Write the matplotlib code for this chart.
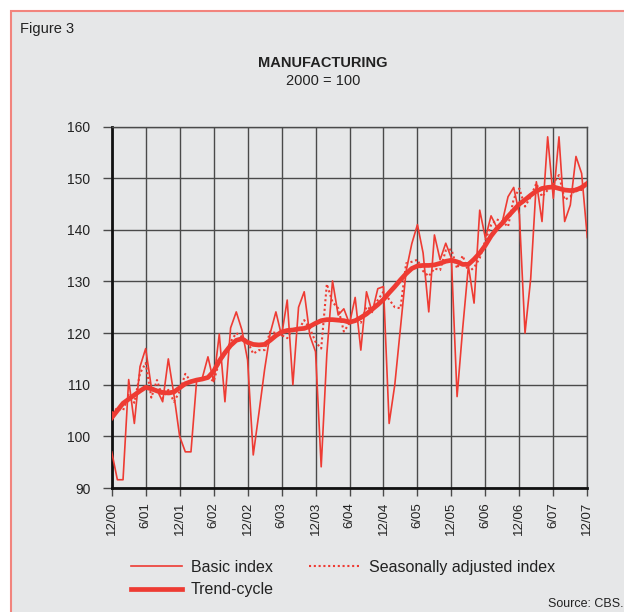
import matplotlib.pyplot as plt
from matplotlib.patches import Rectangle

plt.rcParams['font.family'] = ['Liberation Sans', 'DejaVu Sans']

# monthly, 12/00 .. 12/07
months = list(range(85))

basic_index = [
    97, 91.6, 91.6, 111, 102.5, 113.5, 117, 109.5, 109, 106.7, 115, 108,
    100, 97, 97, 110.8, 111.3, 115.4, 110.6, 119.8, 106.7, 121, 124.1, 120.6,
    114.8, 96.4, 104.5, 112.9, 120, 124.1, 119.5, 126.4, 110, 125, 128, 119.5,
    116.4, 94.1, 116, 130.1, 123.5, 124.7, 121.8, 126.9, 116.7, 128, 124, 128.6,
    129, 102.5, 110, 121, 132, 137.3, 141, 135.5, 124.1, 139, 134.2, 137.4,
    134.5, 107.7, 121, 133, 125.8, 143.8, 138.4, 142.7, 140.5, 141.6, 146.4, 148.2,
    143, 120, 130.5, 149.3, 141.6, 158, 146.1, 158, 141.6, 144.8, 154.2, 150.9,
    138.5,
]

seas_adjusted = [
    104.5, 105.5, 105, 108, 106.5, 112.2, 114.2, 107.5, 110.9, 107.4, 109, 106.7,
    108.7, 112.1, 110.6, 111, 111.2, 111.6, 110.6, 114.5, 115.8, 118.3, 120, 119.3,
    118.3, 116, 116.7, 116.7, 120.3, 120, 119.6, 119, 120.9, 120.6, 122.5, 120.9,
    118.3, 117, 129.5, 126, 124.8, 120.3, 121.9, 122.5, 122, 125.1, 124.5, 126.4,
    128, 126.5, 125, 124.8, 133.5, 133.8, 134.2, 132, 131, 132.5, 132.2, 136,
    136.2, 132.5, 135, 131.8, 132.7, 134.5, 138, 140.9, 142, 141.6, 140.6, 146,
    148, 144.5, 146.4, 149, 146.4, 147.7, 149, 150.6, 145.8, 146.4, 148, 147.7,
    149,
]

trend_cycle = [
    103.6, 105, 106.4, 107.2, 108, 108.8, 109.5, 109.2, 108.8, 108.5, 108.4, 108.6,
    109.4, 110.2, 110.6, 110.9, 111.1, 111.4, 112.6, 114.6, 116.2, 117.6, 118.6, 118.9,
    118.2, 117.8, 117.7, 117.8, 118.6, 119.5, 120.2, 120.5, 120.6, 120.8, 120.9, 121.3,
    121.9, 122.4, 122.6, 122.6, 122.5, 122.4, 122.1, 122.4, 123, 123.7, 124.6, 125.5,
    126.5, 127.8, 129, 130.3, 131.5, 132.5, 133, 133.1, 133.1, 133.2, 133.5, 133.9,
    134.1, 133.8, 133.3, 133.3, 134.3, 135.5, 137, 138.8, 140.2, 141.3, 142.6, 143.8,
    145, 145.8, 146.7, 147.5, 148, 148.2, 148.3, 148, 147.7, 147.6, 147.7, 148.2,
    149,
]

tick_labels = ["12/00", "6/01", "12/01", "6/02", "12/02", "6/03", "12/03", "6/04",
               "12/04", "6/05", "12/05", "6/06", "12/06", "6/07", "12/07"]

red = "#ee3b33"
bg = "#e6e7e8"

fig = plt.figure(figsize=(6.24, 6.12), dpi=100, facecolor="white")
fig.patches.append(Rectangle((11/624, -0.1), 1.2, 1 - 11/612 + 0.1,
                             transform=fig.transFigure, facecolor=bg,
                             edgecolor="#f2847d", lw=1.5, zorder=-10))

ax = fig.add_axes([111.7/624, 1 - 488/612, 475.6/624, 361.5/612])
ax.patch.set_visible(False)

ax.plot(months, basic_index, color=red, lw=1.2, label="Basic index", zorder=3)
ax.plot(months, trend_cycle, color=red, lw=3.4, label="Trend-cycle", zorder=4)
ax.plot(months, seas_adjusted, color=red, lw=1.5, linestyle=(0, (1, 1.3)),
        label="Seasonally adjusted index", zorder=3)

ax.set_xlim(0, 84)
ax.set_ylim(90, 160)
ax.set_xticks(range(0, 85, 6))
ax.set_xticklabels(tick_labels, rotation=90, fontsize=9.5, color="#222222")
ax.set_yticks(range(90, 161, 10))
ax.tick_params(axis="y", labelsize=10, labelcolor="#222222", length=6.3,
               width=1, color="#4a4a4a", pad=9)
ax.tick_params(axis="x", length=6, width=1, color="#4a4a4a", pad=4)
ax.grid(True, color="#4a4a4a", lw=1.0, zorder=1)
ax.set_axisbelow(True)

for side in ["top", "right"]:
    ax.spines[side].set_color("#4a4a4a")
    ax.spines[side].set_linewidth(1.0)
for side in ["left", "bottom"]:
    ax.spines[side].set_color("#111111")
    ax.spines[side].set_linewidth(2.0)

fig.text(20/624, 1 - 29/612, "Figure 3", fontsize=10.5, va="center", color="#222222")
fig.text(323/624, 1 - 63/612, "MANUFACTURING", fontsize=10.5, fontweight="bold",
         ha="center", va="center", color="#222222")
fig.text(323/624, 1 - 81/612, "2000 = 100", fontsize=10.5, ha="center",
         va="center", color="#222222")
fig.text(623/624, 1 - 604/612, "Source: CBS.", fontsize=9, ha="right",
         va="center", color="#222222")

handles, labels = ax.get_legend_handles_labels()
fig.legend(handles, labels, ncol=2, loc="upper left",
           bbox_to_anchor=(131/624, 1 - 560/612), frameon=False,
           fontsize=11.5, handlelength=3.2, handletextpad=0.55,
           columnspacing=2.2, labelspacing=0.45, borderpad=0,
           borderaxespad=0, labelcolor="#222222")

fig.savefig("out.png", dpi=100, facecolor="white")
